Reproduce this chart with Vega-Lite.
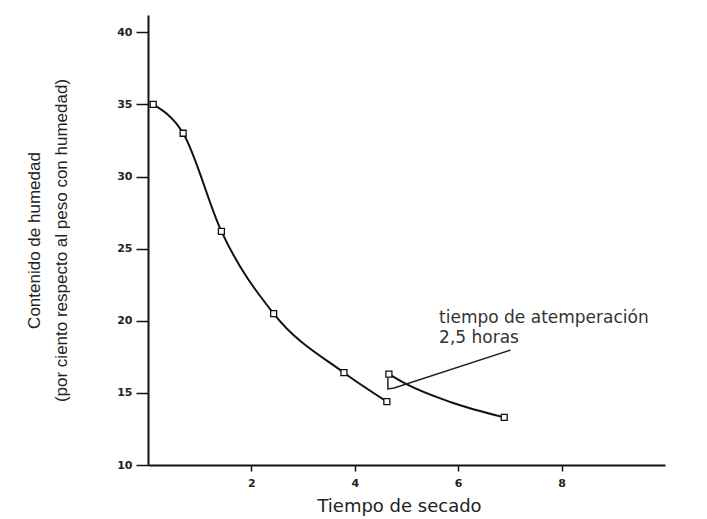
{
  "$schema": "https://vega.github.io/schema/vega-lite/v6.json",
  "description": "Curva de secado: contenido de humedad frente al tiempo de secado, con tiempo de atemperación.",
  "width": 517,
  "height": 450,
  "autosize": "none",
  "padding": {"left": 148, "top": 15, "right": 42, "bottom": 54},
  "background": "white",
  "config": {
    "view": {"stroke": null},
    "axis": {
      "grid": false,
      "domainColor": "#111",
      "domainWidth": 2,
      "tickColor": "#111",
      "tickWidth": 1.5,
      "labelFont": "DejaVu Sans",
      "labelFontSize": 11,
      "labelFontWeight": "bold",
      "labelColor": "#222",
      "titleColor": "#222",
      "titleFontWeight": "normal"
    }
  },
  "datasets": {
    "muestras": [
      {"tiempo": 0.1, "humedad": 35.0},
      {"tiempo": 0.68, "humedad": 33.0},
      {"tiempo": 1.42, "humedad": 26.2},
      {"tiempo": 2.43, "humedad": 20.5},
      {"tiempo": 3.79, "humedad": 16.4},
      {"tiempo": 4.62, "humedad": 14.4},
      {"tiempo": 4.66, "humedad": 16.3},
      {"tiempo": 6.89, "humedad": 13.3}
    ],
    "curva": [
      {"tramo": "secado 1", "tiempo": 0.1, "humedad": 35.0},
      {"tramo": "secado 1", "tiempo": 0.68, "humedad": 33.0},
      {"tramo": "secado 1", "tiempo": 1.42, "humedad": 26.2},
      {"tramo": "secado 1", "tiempo": 2.43, "humedad": 20.5},
      {"tramo": "secado 1", "tiempo": 3.79, "humedad": 16.4},
      {"tramo": "secado 1", "tiempo": 4.62, "humedad": 14.4},
      {"tramo": "secado 2", "tiempo": 4.66, "humedad": 16.3},
      {"tramo": "secado 2", "tiempo": 5.0, "humedad": 15.6},
      {"tramo": "secado 2", "tiempo": 5.86, "humedad": 14.35},
      {"tramo": "secado 2", "tiempo": 6.89, "humedad": 13.3}
    ],
    "flecha": [
      {"paso": 1, "tiempo": 4.64, "humedad": 16.03},
      {"paso": 2, "tiempo": 4.64, "humedad": 15.27},
      {"paso": 3, "tiempo": 4.76, "humedad": 15.34},
      {"paso": 4, "tiempo": 7.01, "humedad": 17.97}
    ]
  },
  "layer": [
    {
      "data": {"name": "curva"},
      "mark": {"type": "line", "interpolate": "monotone", "color": "#111", "strokeWidth": 2},
      "encoding": {
        "x": {
          "field": "tiempo",
          "type": "quantitative",
          "scale": {"domain": [0, 10], "nice": false, "zero": false},
          "axis": {
            "values": [2, 4, 6, 8],
            "tickSize": 6,
            "labelPadding": 6,
            "title": "Tiempo de secado",
            "titleFont": "DejaVu Sans",
            "titleFontSize": 18,
            "titleBaseline": "top",
            "titleAlign": "center",
            "titleX": 251,
            "titleY": 32
          }
        },
        "y": {
          "field": "humedad",
          "type": "quantitative",
          "scale": {"domain": [10, 41.2], "nice": false, "zero": false},
          "axis": {
            "values": [10, 15, 20, 25, 30, 35, 40],
            "tickSize": 12,
            "labelPadding": 4,
            "title": ["Contenido de humedad", "(por ciento respecto al peso con humedad)"],
            "titleFont": "Liberation Sans",
            "titleFontSize": 17,
            "titleLineHeight": 27,
            "titleAngle": 270,
            "titleBaseline": "bottom",
            "titleAlign": "center",
            "titleX": -105,
            "titleY": 225
          }
        },
        "detail": {"field": "tramo", "type": "nominal"},
        "order": {"field": "tiempo", "type": "quantitative"}
      }
    },
    {
      "data": {"name": "flecha"},
      "mark": {"type": "line", "color": "#222", "strokeWidth": 1.5},
      "encoding": {
        "x": {"field": "tiempo", "type": "quantitative"},
        "y": {"field": "humedad", "type": "quantitative"},
        "order": {"field": "paso", "type": "quantitative"}
      }
    },
    {
      "data": {"name": "muestras"},
      "mark": {
        "type": "point",
        "shape": "square",
        "filled": true,
        "fill": "white",
        "stroke": "#111",
        "strokeWidth": 1.3,
        "size": 36,
        "opacity": 1
      },
      "encoding": {
        "x": {"field": "tiempo", "type": "quantitative"},
        "y": {"field": "humedad", "type": "quantitative"}
      }
    },
    {
      "data": {"values": [{"tiempo": 5.63, "humedad": 20.74}]},
      "mark": {
        "type": "text",
        "text": ["tiempo de atemperación", "2,5 horas"],
        "align": "left",
        "baseline": "top",
        "font": "DejaVu Sans",
        "fontSize": 17,
        "lineHeight": 20,
        "color": "#333"
      },
      "encoding": {
        "x": {"field": "tiempo", "type": "quantitative"},
        "y": {"field": "humedad", "type": "quantitative"}
      }
    }
  ]
}
